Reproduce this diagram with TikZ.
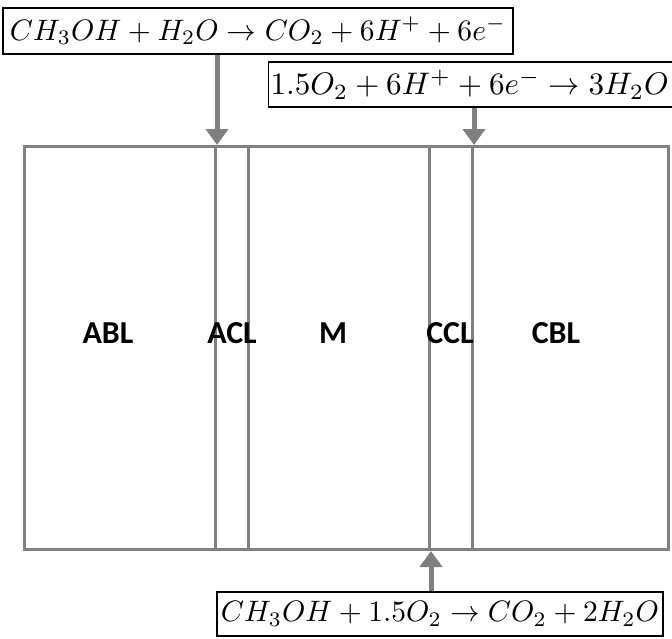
\documentclass[tikz,border=0pt]{standalone}
\usepackage{fontspec}
\newfontfamily\labfont{Carlito}
\usetikzlibrary{arrows.meta}
\definecolor{linegray}{RGB}{128,128,128}
\begin{document}
\begin{tikzpicture}[x=1pt,y=-1pt,
  region/.style={draw=linegray, line width=3pt, minimum height=403pt, inner sep=0pt, anchor=north west},
  lab/.style={font=\labfont\bfseries\fontsize{32}{34}\selectfont, inner sep=0pt},
  eqbox/.style={draw=black, line width=1.3pt, inner sep=0pt},
  arr/.style={draw=linegray, line width=5pt, -{Triangle[length=16pt,width=22pt]}}
]
\useasboundingbox (0,0) rectangle (672,638);
\fill[white] (0,0) rectangle (672,638);
% layers
\node[region, minimum width=191pt] (abl) at (23,145) {};
\node[region, minimum width=33pt] (acl) at (214,145) {};
\node[region, minimum width=181pt] (mem) at (247,145) {};
\node[region, minimum width=43pt] (ccl) at (428,145) {};
\node[region, minimum width=196pt] (cbl) at (471,145) {};
% labels
\node[lab] (tabl) at (108,333) {ABL};
\node[lab] (tacl) at (232,333) {ACL};
\node[lab] (tm) at (333,333) {M};
\node[lab] (tccl) at (450,333) {CCL};
\node[lab] (tcbl) at (556,333) {CBL};
% equations
\node[eqbox, minimum width=510pt, minimum height=46pt] (e1) at (258,31)
  {\resizebox{496pt}{!}{$CH_3OH + H_2O \rightarrow CO_2 + 6H^{+} + 6e^{-}$}};
\node[eqbox, minimum width=410pt, minimum height=45pt, anchor=west, align=left, text width=406pt] (e2) at (268,84.5)
  {\resizebox{398pt}{!}{$1.5O_2 + 6H^{+} + 6e^{-} \rightarrow 3H_2O$}};
\node[eqbox, minimum width=446pt, minimum height=44pt] (e3) at (440,614)
  {\resizebox{438pt}{!}{$CH_3OH + 1.5O_2 \rightarrow CO_2 + 2H_2O$}};
% arrows
\draw[arr] (abl.north east |- e1.south) -- (abl.north east);
\draw[arr] (ccl.north east |- e2.south) -- (ccl.north east);
\draw[arr] (mem.south east |- e3.north) -- (mem.south east);
\end{tikzpicture}
\end{document}
